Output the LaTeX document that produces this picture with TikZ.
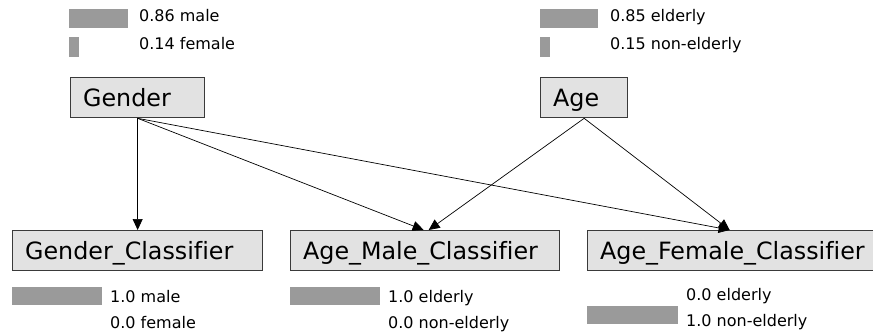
\documentclass[tikz,border=0pt]{standalone}
\usepackage{fontspec}
\setmainfont[Ligatures={NoCommon}]{DejaVu Sans}
\usetikzlibrary{arrows.meta}
\definecolor{boxfill}{HTML}{E2E2E2}
\definecolor{boxline}{HTML}{3A3A3A}
\definecolor{barcol}{HTML}{9A9A9A}
\begin{document}
\begin{tikzpicture}[x=1pt,y=-1pt,
  varbox/.style={draw=boxline, line width=1.3pt, fill=boxfill, rectangle, anchor=north west,
    minimum height=40pt, inner xsep=12.5pt, inner ysep=0pt, align=left,
    text height=22pt, text depth=4pt, font=\fontsize{23.8}{26}\selectfont},
  bar/.style={fill=barcol, draw=none},
  lab/.style={anchor=base west, inner sep=0pt, font=\fontsize{16}{18}\selectfont},
  conn/.style={draw=black, line width=0.7pt, -{Triangle[length=11pt,width=10pt]}}]
\useasboundingbox (0,0) rectangle (873,333);
\fill[white] (0,0) rectangle (873,333);

% top probability bars
\fill[bar] (69,9) rectangle (128,28);
\fill[bar] (69,37) rectangle (79,57);
\node[lab] (gm) at (139,21) {0.86 male};
\node[lab] (gf) at (139,49) {0.14 female};

\fill[bar] (540,9) rectangle (598,28);
\fill[bar] (540,37) rectangle (550,57);
\node[lab] (ae) at (610,21) {0.85 elderly};
\node[lab] (an) at (610,49) {0.15 non-elderly};

% variable nodes
\node[varbox, text width=109pt] (gender) at (70,77) {Gender};
\node[varbox, text width=62pt] (age) at (540,77) {Age};
\node[varbox, text width=225pt] (gc) at (12,230) {Gender\_Classifier};
\node[varbox, text width=244pt] (amc) at (290,230) {Age\_Male\_Classifier};
\node[varbox, text width=273pt] (afc) at (587,230) {Age\_Female\_Classifier};

% connectors
\draw[conn] (gender.south) -- (gc.north);
\draw[conn] (gender.south) -- ([xshift=-1.5pt]amc.north);
\draw[conn] (gender.south) -- ([xshift=-7pt]afc.north);
\draw[conn] (age.south) -- ([xshift=3.5pt]amc.north);
\draw[conn] (age.south) -- ([xshift=-7pt]afc.north);

% bottom probability bars
\fill[bar] (12,287) rectangle (102,305);
\node[lab] (gcm) at (110,302) {1.0 male};
\node[lab] (gcf) at (110,328) {0.0 female};

\fill[bar] (290,287) rectangle (380,305);
\node[lab] (amce) at (388,302) {1.0 elderly};
\node[lab] (amcn) at (388,328) {0.0 non-elderly};

\fill[bar] (587,306) rectangle (678,324);
\node[lab] (afce) at (686,300) {0.0 elderly};
\node[lab] (afcn) at (686,326) {1.0 non-elderly};
\end{tikzpicture}
\end{document}
